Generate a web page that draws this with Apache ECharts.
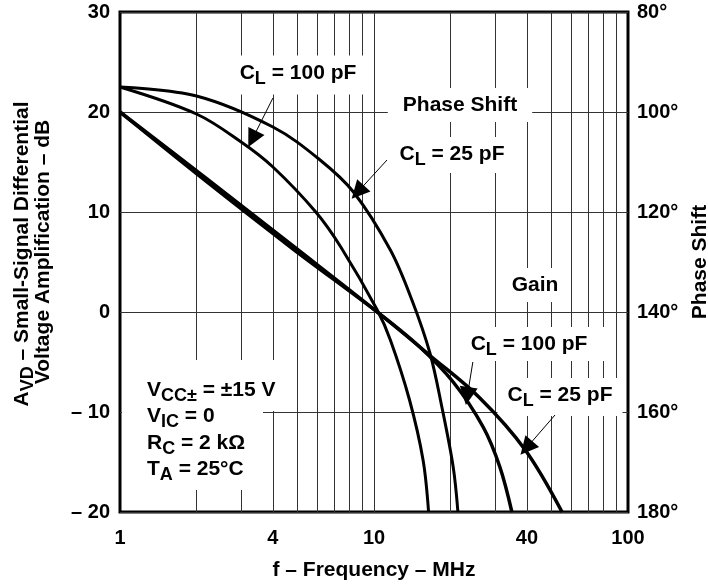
<!DOCTYPE html>
<html>
<head>
<meta charset="utf-8">
<script src="https://cdn.jsdelivr.net/npm/echarts@6/dist/echarts.min.js"></script>
<style>
  html, body { margin: 0; padding: 0; background: #fff; }
  #chart { width: 708px; height: 586px; }
</style>
</head>
<body>
<div id="chart"></div>
<script>
// frequency in MHz, gain in dB, phase in degrees
var xTickLabels = [1, 4, 10, 40, 100];
var xGridValues = [2, 3, 4, 5, 6, 7, 8, 9, 10, 20, 30, 40, 50, 60, 70, 80, 90];

var gain25Freq = [1, 2.2, 4.8, 10.3, 16.7, 26.1, 39.4, 55];
var gain25Db = [20, 13.3, 6.6, 0, -4.4, -8.6, -13.8, -20];

var gain100Freq = [1, 2.2, 4.8, 10.3, 15, 20.5, 26.9, 31.3, 34.9];
var gain100Db = [20, 13.0, 6.3, 0, -3.4, -7.0, -11.5, -15.5, -20];

var phase25Freq = [1, 2, 4, 6.1, 8.3, 11.6, 14.1, 16.6, 18.5, 20.5, 21.4];
var phase25Deg = [95, 96.8, 103, 109.5, 116, 127.6, 137.6, 148.2, 159, 171, 180];

var phase100Freq = [1, 2, 3, 4, 5.9, 7.4, 10.3, 11.6, 13.8, 15.6, 16.4];
var phase100Deg = [95, 100.4, 106, 111, 120, 127, 139.6, 145.6, 157.6, 169.6, 180];

// annotation arrows: [from, to] as [MHz, dB]
var arrowLines = [
  [[4.0, 21.4], [3.32, 17.3]],
  [[11.25, 15.2], [8.63, 12.0]],
  [[24.5, -5.0], [23.3, -8.4]],
  [[51.6, -10.3], [39.8, -13.6]]
];

var FONT = 'Liberation Sans, Arial, sans-serif';

function pairs(xs, ys) {
  return xs.map(function (x, i) { return [x, ys[i]]; });
}

var rich = {
  m: { fontSize: 21, fontWeight: 'bold', fontFamily: FONT, color: '#000', lineHeight: 30 },
  s: { fontSize: 18, fontWeight: 'bold', fontFamily: FONT, color: '#000', lineHeight: 14, verticalAlign: 'bottom' }
};

function label(x, y, text, align, pad) {
  return {
    type: 'text', x: x, y: y, z: 3,
    style: {
      text: text, rich: rich, align: align || 'center', verticalAlign: 'middle',
      backgroundColor: pad ? '#fff' : null, padding: pad || 0
    }
  };
}

function curve(name, axis, width, data) {
  return {
    name: name, type: 'line', z: 4, yAxisIndex: axis, smooth: 0.35,
    symbol: 'none', lineStyle: { color: '#000', width: width }, data: data
  };
}

var chart = echarts.init(document.getElementById('chart'));

var option = {
  animation: false,
  grid: {
    left: 120, right: 80, top: 12, bottom: 74, outerBoundsMode: 'none', containLabel: false,
    show: true, borderColor: '#000', borderWidth: 3, backgroundColor: '#fff'
  },
  xAxis: {
    type: 'log', logBase: 10, min: 1, max: 100,
    name: 'f – Frequency – MHz', nameLocation: 'middle', nameGap: 48,
    nameTextStyle: { fontSize: 21, fontWeight: 'bold', fontFamily: FONT, color: '#000' },
    axisLine: { show: false }, axisTick: { show: false }, splitLine: { show: false },
    axisLabel: { customValues: xTickLabels, fontSize: 20, fontWeight: 'bold', fontFamily: FONT, color: '#000', margin: 16 }
  },
  yAxis: [
    {
      type: 'value', min: -20, max: 30, interval: 10,
      axisLine: { show: false }, axisTick: { show: false },
      splitLine: { lineStyle: { color: '#333', width: 1 } },
      axisLabel: {
        fontSize: 20, fontWeight: 'bold', fontFamily: FONT, color: '#000', margin: 10,
        formatter: function (v) { return v < 0 ? '– ' + (-v) : String(v); }
      }
    },
    {
      type: 'value', min: 80, max: 180, interval: 20, inverse: true, position: 'right',
      name: 'Phase Shift', nameLocation: 'middle', nameGap: 60, nameRotate: 90,
      nameTextStyle: { fontSize: 21, fontWeight: 'bold', fontFamily: FONT, color: '#000' },
      axisLine: { show: false }, axisTick: { show: false }, splitLine: { show: false },
      axisLabel: {
        fontSize: 20, fontWeight: 'bold', fontFamily: FONT, color: '#000', margin: 9,
        formatter: function (v) { return v + '°'; }
      }
    }
  ],
  series: [
    {
      name: 'grid', type: 'line', data: [], silent: true,
      markLine: {
        z: 1, silent: true, symbol: 'none', label: { show: false }, animation: false,
        lineStyle: { color: '#333', width: 1, type: 'solid' },
        data: xGridValues.map(function (v) { return { xAxis: v }; })
      }
    },
    curve('Gain CL=25pF', 0, 3.5, pairs(gain25Freq, gain25Db)),
    curve('Gain CL=100pF', 0, 3.5, pairs(gain100Freq, gain100Db)),
    curve('Phase CL=25pF', 1, 3, pairs(phase25Freq, phase25Deg)),
    curve('Phase CL=100pF', 1, 3, pairs(phase100Freq, phase100Deg)),
    {
      name: 'arrows', type: 'line', data: [], yAxisIndex: 0, silent: true,
      markLine: {
        z: 6, silent: true, symbol: ['none', 'triangle'], symbolSize: 18, label: { show: false }, animation: false,
        lineStyle: { color: '#000', width: 1, type: 'solid' },
        itemStyle: { color: '#000' },
        data: arrowLines.map(function (a) { return [{ coord: a[0] }, { coord: a[1] }]; })
      }
    }
  ],
  graphic: [
    { type: 'rect', z: 2, shape: { x: 122, y: 360, width: 141, height: 130 }, style: { fill: '#fff' } },
    { type: 'rect', z: 2, shape: { x: 263, y: 360, width: 28, height: 51 }, style: { fill: '#fff' } },
    label(298, 75, '{m|C}{s|L}{m| = 100 pF}', 'center', [3, 10, 6, 10]),
    label(460, 105, '{m|Phase Shift}', 'center', [2, 15, 2, 15]),
    label(452, 155, '{m|C}{s|L}{m| = 25 pF}', 'center', [2, 10, 4, 10]),
    label(535, 285, '{m|Gain}', 'center', [2, 10, 2, 10]),
    label(536, 344, '{m|C}{s|L}{m| = 100 pF}', 'center', [2, 26, 2, 12]),
    label(560, 397, '{m|C}{s|L}{m| = 25 pF}', 'center', [2, 10, 6, 10]),
    label(147, 390, '{m|V}{s|CC±}{m| = ±15 V}', 'left'),
    label(147, 416, '{m|V}{s|IC}{m| = 0}', 'left'),
    label(147, 443, '{m|R}{s|C}{m| = 2 kΩ}', 'left'),
    label(147, 469, '{m|T}{s|A}{m| = 25°C}', 'left'),
    { type: 'text', x: 22, y: 254, rotation: Math.PI / 2, z: 3,
      style: { text: '{m|A}{s|VD}{m| – Small-Signal Differential}', rich: rich, align: 'center', verticalAlign: 'middle' } },
    { type: 'text', x: 43, y: 252, rotation: Math.PI / 2, z: 3,
      style: { text: '{m|Voltage Amplification – dB}', rich: rich, align: 'center', verticalAlign: 'middle' } }
  ]
};

chart.setOption(option);
</script>
</body>
</html>
